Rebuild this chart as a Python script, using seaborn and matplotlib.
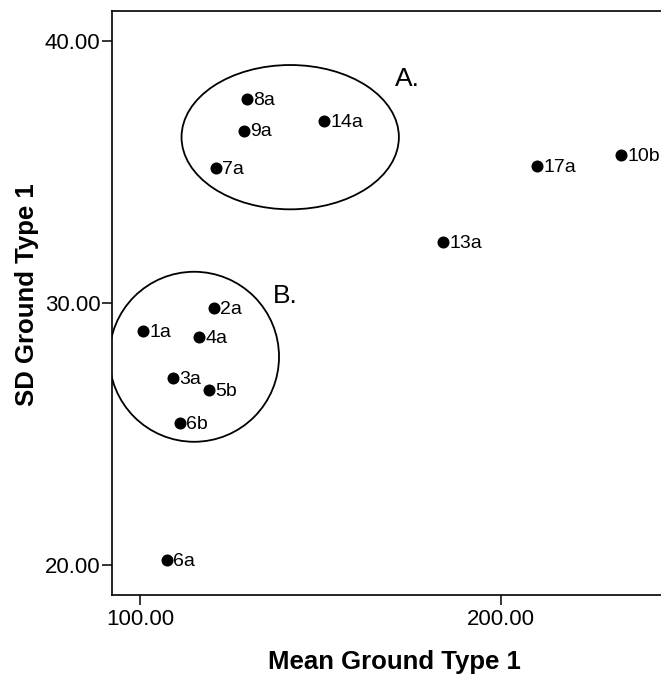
import pandas as pd
import matplotlib.pyplot as plt
import seaborn as sns
from matplotlib.patches import Ellipse

# dados
rotulos = ['8a', '9a', '14a', '7a', '17a', '10b', '13a',
           '2a', '1a', '4a', '3a', '5b', '6b', '6a']
media = [129.7, 128.8, 151.0, 121.0, 209.9, 233.2, 184.0,
         120.4, 100.8, 116.4, 109.0, 119.2, 111.1, 107.4]
desvio = [37.78, 36.57, 36.95, 35.14, 35.22, 35.63, 32.31,
          29.82, 28.93, 28.70, 27.15, 26.68, 25.41, 20.19]

df = pd.DataFrame({'Mean Ground Type 1': media, 'SD Ground Type 1': desvio, 'rotulo': rotulos})

sns.set_theme(style="white")
plt.rcParams['font.family'] = ['Liberation Sans', 'DejaVu Sans']
plt.rcParams['text.color'] = 'black'

fig = plt.figure(figsize=(6.61, 6.77), dpi=100)
ax = fig.add_axes([0.169, 0.1211, 0.831, 0.8627])

sns.scatterplot(data=df, x='Mean Ground Type 1', y='SD Ground Type 1',
                color='black', s=75, edgecolor='black', linewidth=0, ax=ax, zorder=3)

for _, linha in df.iterrows():
    ax.annotate(linha['rotulo'], (linha['Mean Ground Type 1'], linha['SD Ground Type 1']),
                xytext=(4.5, -1), textcoords='offset points', ha='left', va='center',
                fontsize=14, color='black', annotation_clip=False)

# grupos A e B
ax.add_patch(Ellipse((141.6, 36.32), 60.2, 5.50, fill=False, edgecolor='black', linewidth=1.3))
ax.add_patch(Ellipse((115.0, 27.95), 47.0, 6.48, fill=False, edgecolor='black', linewidth=1.3))
ax.text(174.0, 38.55, 'A.', fontsize=19, ha='center', va='center', color='black')
ax.text(140.2, 30.25, 'B.', fontsize=19, ha='center', va='center', color='black')

ax.set_xlim(92.16, 244.3)
ax.set_ylim(18.87, 41.13)
ax.set_xticks([100, 200])
ax.set_yticks([20, 30, 40])
ax.xaxis.set_major_formatter(plt.FuncFormatter(lambda v, p: f'{v:.2f}'))
ax.yaxis.set_major_formatter(plt.FuncFormatter(lambda v, p: f'{v:.2f}'))
ax.tick_params(axis='both', which='major', direction='out', length=7.2, width=1.1,
               labelsize=16, color='black', labelcolor='black', bottom=True, left=True)
ax.tick_params(axis='x', pad=3)
ax.tick_params(axis='y', pad=1)

for lado in ['left', 'bottom', 'top']:
    ax.spines[lado].set_color('black')
    ax.spines[lado].set_linewidth(1.2)
ax.spines['right'].set_visible(False)

ax.set_xlabel('Mean Ground Type 1', fontsize=18.5, fontweight='bold', color='black')
ax.set_ylabel('SD Ground Type 1', fontsize=18.5, fontweight='bold', color='black')
ax.xaxis.set_label_coords(0.515, -0.094)
ax.yaxis.set_label_coords(-0.133, 0.515)

plt.savefig('out.png', dpi=100)
plt.close()
